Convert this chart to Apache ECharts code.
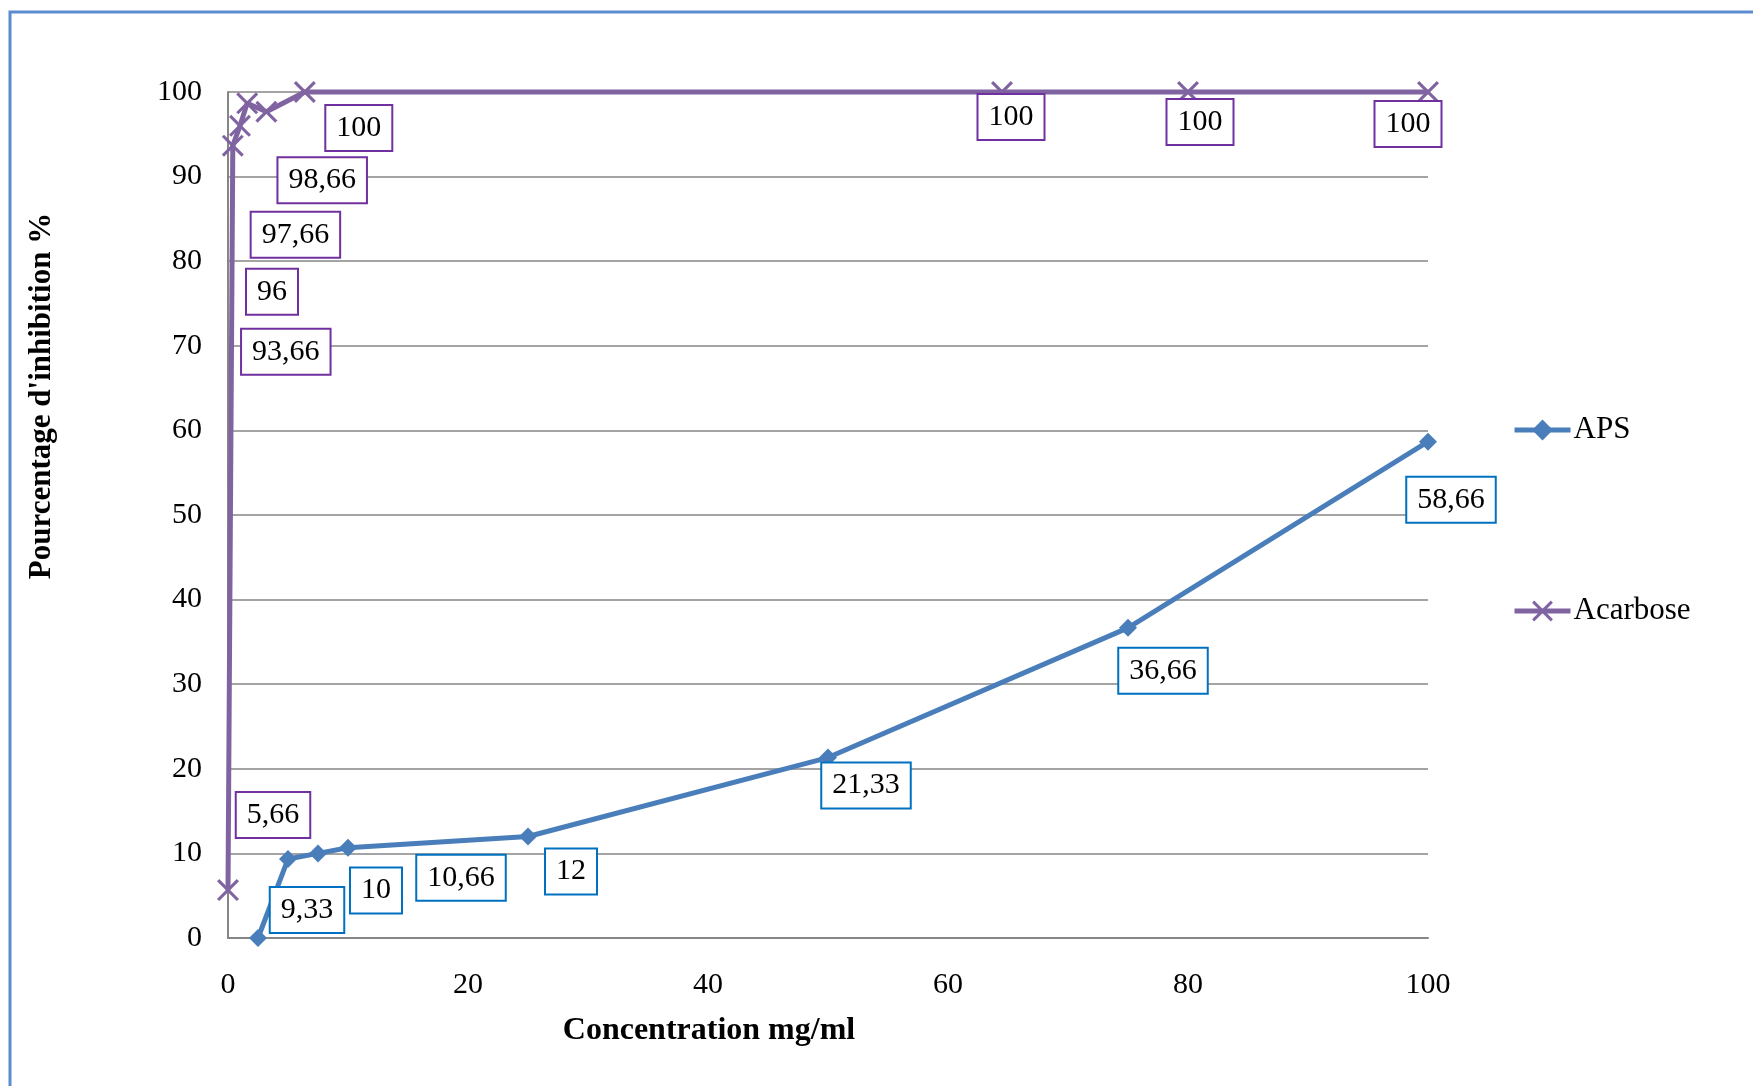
<!DOCTYPE html>
<html>
<head>
<meta charset="utf-8">
<script src="https://cdn.jsdelivr.net/npm/echarts@6/dist/echarts.min.js"></script>
<style>
html,body{margin:0;padding:0;background:#fff;}
#chart{width:1753px;height:1086px;}
</style>
</head>
<body>
<div id="chart"></div>
<script>
const xAPS = [2.5, 5, 7.5, 10, 25, 50, 75, 100];
const yAPS = [0, 9.33, 10, 10.66, 12, 21.33, 36.66, 58.66];
const xAcarbose = [0, 0.4, 1, 1.6, 3.2, 6.4, 64.5, 80, 100];
const yAcarbose = [5.66, 93.66, 96, 98.66, 97.66, 100, 100, 100, 100];
const seriesNames = ['APS', 'Acarbose'];
const xTitle = 'Concentration mg/ml';
const yTitle = "Pourcentage d'inhibition %";

// label placement (pixels, relative to each point)
const apsLabelOffsets = [null, [19, 51], [58, 37], [113, 30], [43, 35], [38, 28], [35, 43], [23, 58]];
const acaLabelOffsets = [[45, -75], [53, 206], [32, 166], [75, 77], [29, 123], [54, 36], [9, 25], [12, 30], [-20, 32]];

const FONT = "'Liberation Serif','Times New Roman',serif";
const BLUE = '#4A7EBB';
const PURPLE = '#8064A2';
const crossPath = 'path://M0,1L1,0L10,9L9,10Z M9,0L10,1L1,10L0,9Z';

function labelStyle(border) {
  return {
    show: true,
    position: 'inside',
    fontFamily: FONT,
    fontSize: 30,
    lineHeight: 34,
    color: '#000',
    backgroundColor: '#fff',
    borderColor: border,
    borderWidth: 2,
    padding: [5, 10, 5, 10],
    formatter: p => String(p.value[1]).replace('.', ',')
  };
}

function build(xs, ys, offsets, border) {
  return xs.map((x, i) => {
    const item = { value: [x, ys[i]] };
    if (offsets[i]) {
      item.label = Object.assign(labelStyle(border), { offset: offsets[i] });
    } else {
      item.label = { show: false };
    }
    return item;
  });
}

const legendBase = {
  orient: 'vertical', left: 1512, padding: 0,
  itemWidth: 56, itemHeight: 26,
  lineStyle: { width: 5 },
  textStyle: { fontFamily: FONT, fontSize: 31, lineHeight: 34, color: '#000', padding: [0, 0, 0, -2] }
};

const chart = echarts.init(document.getElementById('chart'), null, { renderer: 'canvas' });
chart.setOption({
  animation: false,
  backgroundColor: '#fff',
  grid: { left: 228, top: 92, right: 325, bottom: 148, containLabel: false },
  xAxis: {
    type: 'value', min: 0, max: 100, interval: 20,
    axisLine: { show: true, lineStyle: { color: '#868686', width: 2 } },
    axisTick: { show: false },
    splitLine: { show: false },
    axisLabel: { fontFamily: FONT, fontSize: 30, color: '#000', margin: 32 }
  },
  yAxis: {
    type: 'value', min: 0, max: 100, interval: 10,
    axisLine: { show: true, lineStyle: { color: '#868686', width: 2 } },
    axisTick: { show: false },
    splitLine: { show: true, lineStyle: { color: '#868686', width: 1.5 } },
    axisLabel: { fontFamily: FONT, fontSize: 30, color: '#000', margin: 26 }
  },
  legend: [
    Object.assign({}, legendBase, { data: [seriesNames[0]], top: 413 }),
    Object.assign({}, legendBase, { data: [seriesNames[1]], top: 594 })
  ],
  graphic: [
    {
      type: 'rect', silent: true, z: 100,
      shape: { x: 10, y: 12, width: 1900, height: 1200 },
      style: { fill: 'none', stroke: '#5B8BD0', lineWidth: 3 }
    },
    {
      type: 'text', x: 709, y: 1031, z: 100,
      style: { text: xTitle, font: "bold 32px " + FONT, fill: '#000', align: 'center', verticalAlign: 'middle' }
    },
    {
      type: 'text', x: 42, y: 396, rotation: Math.PI / 2, z: 100,
      style: { text: yTitle, font: "bold 31px " + FONT, fill: '#000', align: 'center', verticalAlign: 'middle' }
    }
  ],
  series: [
    {
      name: seriesNames[0], type: 'line', clip: false,
      data: build(xAPS, yAPS, apsLabelOffsets, '#0070C0'),
      symbol: 'diamond', symbolSize: 18,
      lineStyle: { color: BLUE, width: 5 },
      itemStyle: { color: BLUE },
      z: 3
    },
    {
      name: seriesNames[1], type: 'line', clip: false,
      data: build(xAcarbose, yAcarbose, acaLabelOffsets, '#7030A0'),
      symbol: crossPath, symbolSize: 22,
      lineStyle: { color: PURPLE, width: 5 },
      itemStyle: { color: PURPLE },
      z: 4
    }
  ]
});
</script>
</body>
</html>
